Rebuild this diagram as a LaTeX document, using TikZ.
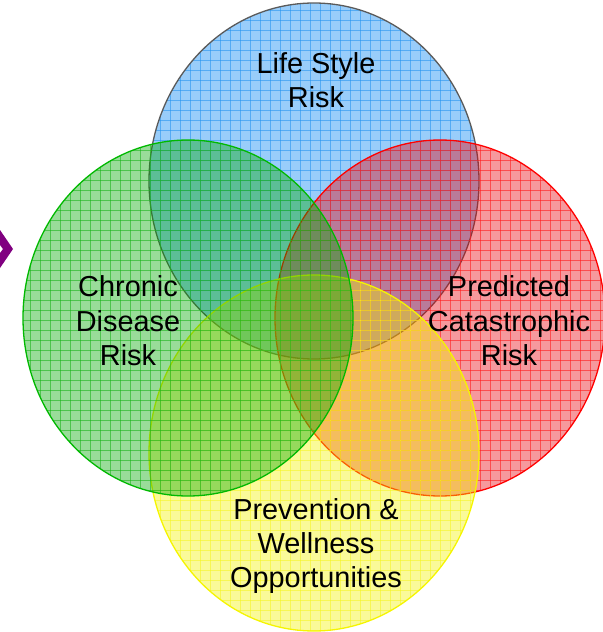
\documentclass[tikz,border=0pt]{standalone}
\usepackage{fontspec}
\setmainfont{Liberation Sans}
\definecolor{vblue}{RGB}{0,130,242}
\definecolor{vgreen}{RGB}{0,168,0}
\definecolor{vred}{RGB}{232,0,10}
\definecolor{vyellow}{RGB}{242,242,0}
\definecolor{gblue}{RGB}{40,150,240}
\definecolor{ggreen}{RGB}{30,180,30}
\definecolor{gred}{RGB}{255,30,30}
\definecolor{gyellow}{RGB}{245,245,40}
\definecolor{vblueline}{RGB}{90,90,90}
\definecolor{vgreenline}{RGB}{0,185,0}
\definecolor{vredline}{RGB}{255,0,0}
\definecolor{vyellowline}{RGB}{245,245,0}
\definecolor{chev}{RGB}{128,0,128}
\newcommand\VennDisk[5]{%
  \begin{scope}
    \clip (#1,#2) ellipse [x radius=165bp, y radius=178bp];
    \fill[#3, fill opacity=0.4] (#1,#2) ellipse [x radius=165bp, y radius=178bp];
    \foreach \gx in {0,10,...,600} \draw[#5, opacity=0.6, line width=0.7bp] (\gx,0) -- (\gx,632);
    \foreach \gy in {0,10,...,630} \draw[#5, opacity=0.6, line width=0.7bp] (0,\gy) -- (603,\gy);
  \end{scope}
  \draw[#4, line width=1.3bp] (#1,#2) ellipse [x radius=165bp, y radius=178bp];
}
\tikzset{lbl/.style={align=center, text=black, font=\fontsize{29}{34.5}\selectfont, inner sep=0pt}}
\begin{document}
\begin{tikzpicture}[x=1bp,y=-1bp]
  \useasboundingbox (0,0) rectangle (603,632);
  \VennDisk{314}{181}{vblue}{vblueline}{gblue}
  \VennDisk{440}{318}{vred}{vredline}{gred}
  \VennDisk{314}{453}{vyellow}{vyellowline}{gyellow}
  \VennDisk{188}{318}{vgreen}{vgreenline}{ggreen}
  \fill[chev] (0,230) -- (13,249) -- (0,268) -- (0,253) -- (3,249) -- (0,245) -- cycle;
  \node[lbl] (life) at (316,80) {Life Style\\Risk};
  \node[lbl] (chronic) at (128,321) {Chronic\\Disease\\Risk};
  \node[lbl] (pred) at (509,321) {Predicted\\Catastrophic\\Risk};
  \node[lbl] (prev) at (316,546) {Prevention \&\\Wellness\\Opportunities};
\end{tikzpicture}
\end{document}
